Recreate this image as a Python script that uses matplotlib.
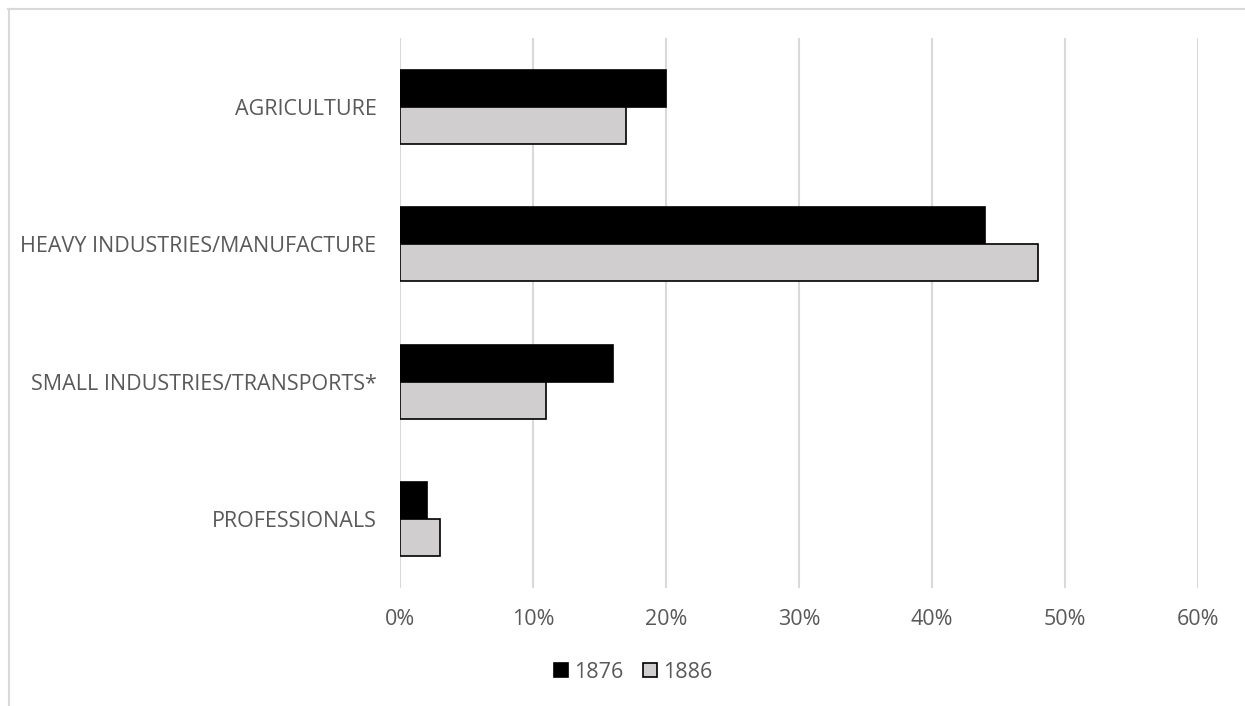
import numpy as np
import matplotlib.pyplot as plt
from matplotlib.patches import Patch
from matplotlib.lines import Line2D

# share of workforce by sector
categories = ["AGRICULTURE", "HEAVY INDUSTRIES/MANUFACTURE",
              "SMALL INDUSTRIES/TRANSPORTS*", "PROFESSIONALS"]
share_1876 = [20, 44, 16, 2]
share_1886 = [17, 48, 11, 3]
years = ["1876", "1886"]
xticks = [0, 10, 20, 30, 40, 50, 60]

plt.rcParams['font.family'] = ['Open Sans', 'DejaVu Sans']
text_color = "#595959"
fs = 15.5

fig = plt.figure(figsize=(12.45, 7.06), dpi=100)
ax = fig.add_axes([400 / 1245, 1 - 588 / 706, 798 / 1245, 550 / 706])

y = np.arange(len(categories))[::-1]
h = 0.27
ax.barh(y + h / 2, share_1876, height=h, color="black", edgecolor="black", linewidth=1.2, zorder=3)
ax.barh(y - h / 2, share_1886, height=h, color="#d0cece", edgecolor="black", linewidth=1.2, zorder=3)

ax.set_xlim(0, 60)
ax.set_ylim(-0.5, len(categories) - 0.5)
ax.set_xticks(xticks)
ax.set_xticklabels([f"{v}%" for v in xticks])
ax.set_yticks(y)
ax.set_yticklabels(categories)
ax.grid(axis="x", color="#d9d9d9", linewidth=1.5, zorder=0)
ax.tick_params(length=0, labelsize=fs, labelcolor=text_color)
ax.tick_params(axis="x", pad=15)
ax.tick_params(axis="y", pad=17)
for s in ax.spines.values():
    s.set_visible(False)

handles = [Patch(facecolor="black", edgecolor="black", linewidth=1.2),
           Patch(facecolor="#d0cece", edgecolor="black", linewidth=1.2)]
fig.legend(handles, years, loc="center", bbox_to_anchor=(633 / 1245, 1 - 672 / 706),
           ncol=2, frameon=False, fontsize=fs, labelcolor=text_color,
           handlelength=0.65, handleheight=0.65, handletextpad=0.3, columnspacing=0.9)

# chart border
fig.add_artist(Line2D([8 / 1245, 1], [1 - 8.5 / 706] * 2, color="#d9d9d9", linewidth=1.5))
fig.add_artist(Line2D([8.5 / 1245] * 2, [0, 1 - 8.5 / 706], color="#d9d9d9", linewidth=1.5))

fig.savefig("out.png", dpi=100)
